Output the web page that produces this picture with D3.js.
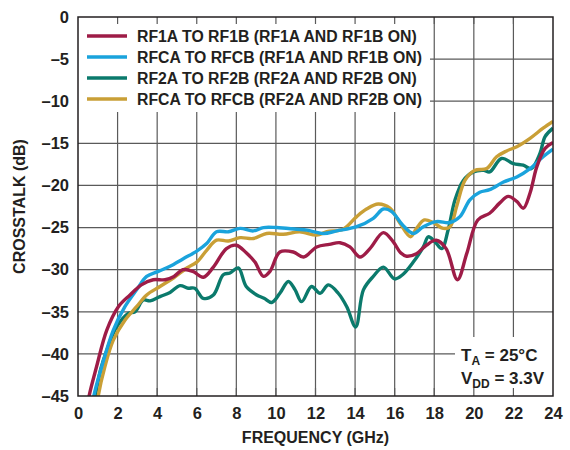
<!DOCTYPE html>
<html><head><meta charset="utf-8">
<script src="https://cdn.jsdelivr.net/npm/d3@7"></script>
<style>body{margin:0;background:#fff}svg{display:block}text{font-family:"Liberation Sans",Arial,sans-serif;font-weight:bold;fill:#231f20}</style>
</head><body><div id="chart"></div>
<script>
const xTicks = [0,2,4,6,8,10,12,14,16,18,20,22,24];
const yTicks = [0,-5,-10,-15,-20,-25,-30,-35,-40,-45];
const seriesNames = ["RF1A TO RF1B (RF1A AND RF1B ON)","RFCA TO RFCB (RF1A AND RF1B ON)","RF2A TO RF2B (RF2A AND RF2B ON)","RFCA TO RFCB (RF2A AND RF2B ON)"];
const seriesColors = ["#9e1c47","#1aa3dc","#0b7a6c","#c99f36"];
const rf1a = [[0.5,-46],[0.57,-44.9],[0.94,-41.5],[1.45,-37.2],[2.04,-34.4],[2.63,-33.0],[3.2,-31.8],[3.8,-31.2],[4.4,-31.2],[4.85,-30.8],[5.3,-30.0],[5.8,-30.2],[6.33,-30.9],[6.84,-29.7],[7.5,-27.5],[8.0,-27.1],[8.5,-28.0],[8.94,-29.1],[9.37,-30.8],[9.7,-30.2],[10.2,-27.9],[10.88,-27.9],[11.4,-28.5],[12.06,-27.3],[12.7,-27.0],[13.24,-26.8],[13.74,-27.3],[14.25,-28.5],[14.75,-27.5],[15.43,-25.6],[15.93,-26.7],[16.3,-28.0],[16.6,-28.4],[17.1,-28.1],[17.6,-27.1],[18.1,-26.5],[18.6,-27.5],[19.17,-31.2],[19.64,-28.1],[20.2,-24.1],[20.8,-23.3],[21.3,-22.1],[21.74,-21.3],[22.17,-21.9],[22.5,-22.7],[22.84,-20.9],[23.18,-17.8],[23.6,-15.6],[24,-14.9]];
const rfca1 = [[0.75,-46],[0.81,-44.9],[1.2,-41.5],[1.78,-37.2],[2.37,-34.4],[2.96,-32.4],[3.47,-30.8],[4.06,-30.2],[4.65,-29.6],[5.32,-28.7],[6.0,-27.8],[6.5,-26.9],[7.0,-25.5],[7.6,-25.5],[8.19,-25.1],[8.86,-25.4],[9.37,-25.0],[10.04,-25.0],[11.05,-25.2],[11.56,-25.3],[12.4,-25.7],[13.07,-25.4],[14.08,-24.9],[14.92,-23.9],[15.43,-22.8],[15.85,-23.1],[16.4,-24.7],[16.94,-25.7],[17.45,-24.9],[18.1,-24.3],[18.8,-24.4],[19.3,-23.7],[19.8,-21.7],[20.3,-20.8],[20.8,-20.5],[21.5,-19.6],[22.17,-19.0],[22.84,-18.0],[23.5,-16.6],[24,-15.7]];
const rf2a = [[0.8,-46],[0.88,-44.9],[1.15,-41.8],[1.45,-39.6],[1.95,-36.8],[2.54,-35.2],[2.88,-35.0],[3.3,-33.6],[3.64,-33.7],[4.14,-33.2],[4.65,-32.7],[5.15,-31.9],[5.57,-32.2],[5.9,-32.2],[6.33,-33.4],[6.84,-33.0],[7.34,-30.6],[7.68,-30.4],[8.1,-29.8],[8.5,-32.0],[9.03,-33.0],[9.4,-33.4],[9.79,-33.9],[10.2,-32.8],[10.63,-31.4],[10.97,-32.4],[11.3,-33.8],[11.8,-32.0],[12.23,-32.8],[12.65,-31.8],[13.15,-32.8],[13.58,-34.4],[14.03,-36.8],[14.42,-32.4],[14.92,-30.8],[15.43,-29.7],[16.0,-31.1],[16.4,-30.6],[16.94,-29.1],[17.45,-27.3],[17.7,-26.1],[18.04,-26.7],[18.38,-27.5],[18.7,-25.3],[19.05,-21.7],[19.47,-19.4],[19.97,-18.4],[20.5,-18.2],[20.8,-18.4],[21.4,-16.8],[22.0,-17.4],[22.5,-17.6],[22.9,-18.0],[23.34,-16.2],[23.6,-14.2],[24,-13.2]];
const rfca2 = [[0.97,-46],[1.03,-44.9],[1.36,-41.5],[1.78,-38.4],[2.37,-36.0],[2.96,-34.4],[3.47,-33.0],[4.14,-32.0],[4.82,-31.0],[5.5,-29.8],[6.0,-29.1],[6.5,-27.7],[7.0,-26.5],[7.6,-26.6],[8.19,-26.2],[8.86,-26.3],[9.53,-25.7],[10.37,-25.8],[11.2,-25.5],[12.06,-25.9],[12.57,-25.5],[13.4,-25.2],[14.08,-23.7],[14.58,-22.8],[15.17,-22.2],[15.76,-22.7],[16.27,-24.5],[16.8,-26.1],[17.1,-25.1],[17.5,-24.1],[17.95,-24.4],[18.46,-25.1],[18.8,-24.9],[19.13,-22.5],[19.55,-19.4],[20.06,-18.2],[20.65,-18.0],[21.15,-16.6],[21.66,-15.9],[22.17,-15.4],[22.84,-14.4],[23.5,-13.2],[24,-12.4]];
const seriesData = [rf1a, rfca1, rf2a, rfca2];
const drawOrder = [2,3,1,0];

const W=570,H=450, L=78,R=553,T=17,B=396;
const FONT="Liberation Sans, Arial, sans-serif";
const svg=d3.select("#chart").append("svg").attr("width",W).attr("height",H);
const x=d3.scaleLinear().domain([0,24]).range([L,R]);
const y=d3.scaleLinear().domain([-45,0]).range([B,T]);

svg.append("defs").append("clipPath").attr("id","clip").append("rect").attr("x",L).attr("y",T).attr("width",R-L).attr("height",B-T);

// grid
const grid=svg.append("g");
grid.selectAll("line.v").data(xTicks.slice(1,-1)).join("line").attr("x1",d=>x(d)).attr("x2",d=>x(d)).attr("y1",T).attr("y2",B).attr("stroke","#5a5a5a").attr("stroke-width",1.2);
grid.selectAll("line.h").data(yTicks.slice(1,-1)).join("line").attr("y1",d=>y(d)).attr("y2",d=>y(d)).attr("x1",L).attr("x2",R).attr("stroke","#5a5a5a").attr("stroke-width",1.2);

// white boxes
svg.append("rect").attr("x",L).attr("y",T).attr("width",352).attr("height",95).attr("fill","#fff");
svg.append("rect").attr("x",455).attr("y",337).attr("width",R-455).attr("height",B-337).attr("fill","#fff");

// inner ticks top & bottom
svg.append("g").selectAll("line").data(xTicks.slice(1,-1)).join("line").attr("x1",d=>x(d)).attr("x2",d=>x(d)).attr("y1",T).attr("y2",T+7).attr("stroke","#5a5a5a").attr("stroke-width",1.2);
svg.append("g").selectAll("line").data(xTicks.slice(1,-1)).join("line").attr("x1",d=>x(d)).attr("x2",d=>x(d)).attr("y1",B-8).attr("y2",B).attr("stroke","#5a5a5a").attr("stroke-width",1.2);

// lines
const line=d3.line().x(d=>x(d[0])).y(d=>y(d[1])).curve(d3.curveCatmullRom.alpha(0.5));
const lg=svg.append("g").attr("clip-path","url(#clip)");
drawOrder.forEach(i=>{
  lg.append("path").attr("d",line(seriesData[i])).attr("fill","none").attr("stroke",seriesColors[i]).attr("stroke-width",3.4).attr("stroke-linejoin","round");
});

// frame
svg.append("rect").attr("x",L).attr("y",T).attr("width",R-L).attr("height",B-T).attr("fill","none").attr("stroke","#231f20").attr("stroke-width",1.5);

// axes labels
const xAxis=d3.axisBottom(x).tickValues(xTicks).tickSize(0).tickPadding(11).tickFormat(d=>d);
const gx=svg.append("g").attr("transform",`translate(0,${B})`).call(xAxis);
gx.select(".domain").remove();
gx.selectAll("text").attr("font-size",16.5).attr("font-family",FONT).attr("font-weight","bold").attr("fill","#231f20");
const yAxis=d3.axisLeft(y).tickValues(yTicks).tickSize(0).tickPadding(9).tickFormat(d=>d===0?"0":"–"+Math.abs(d));
const gy=svg.append("g").attr("transform",`translate(${L},0)`).call(yAxis);
gy.select(".domain").remove();
gy.selectAll("text").attr("font-size",16.5).attr("font-family",FONT).attr("font-weight","bold").attr("fill","#231f20");

svg.append("text").attr("x",(L+R)/2).attr("y",443).attr("text-anchor","middle").attr("font-size",16).text("FREQUENCY (GHz)");
svg.append("text").attr("transform",`translate(25,${(T+B)/2}) rotate(-90)`).attr("text-anchor","middle").attr("font-size",16).text("CROSSTALK (dB)");

// legend
const leg=svg.append("g");
seriesNames.forEach((n,i)=>{
  const yy=36+i*21;
  leg.append("line").attr("x1",87).attr("x2",127).attr("y1",yy).attr("y2",yy).attr("stroke",seriesColors[i]).attr("stroke-width",3.4);
  leg.append("text").attr("x",137).attr("y",yy+5.5).attr("font-size",15.8).text(n);
});

// annotation
const ann=svg.append("text").attr("x",461).attr("y",361).attr("font-size",17);
ann.append("tspan").text("T");
ann.append("tspan").attr("font-size",12).attr("dy",4).text("A");
ann.append("tspan").attr("dy",-4).text(" = 25°C");
const ann2=svg.append("text").attr("x",461).attr("y",384).attr("font-size",17);
ann2.append("tspan").text("V");
ann2.append("tspan").attr("font-size",12).attr("dy",4).text("DD");
ann2.append("tspan").attr("dy",-4).text(" = 3.3V");
</script></body></html>
